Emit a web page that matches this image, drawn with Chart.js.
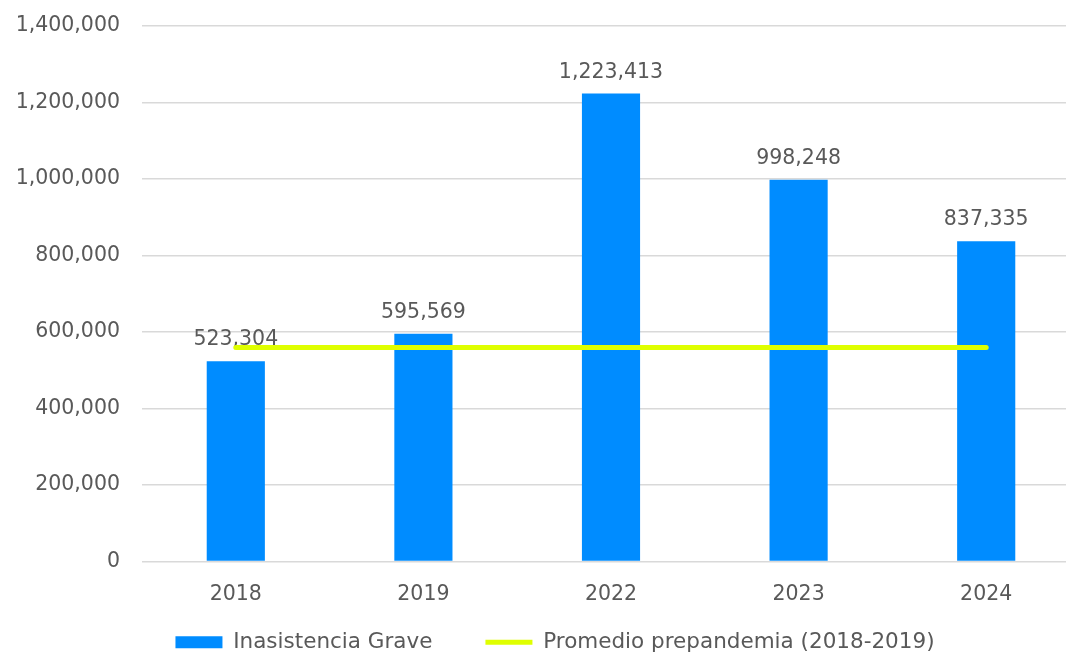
<!DOCTYPE html>
<html>
<head>
<meta charset="utf-8">
<script src="https://cdn.jsdelivr.net/npm/chart.js@4.4.1/dist/chart.umd.min.js"></script>
<style>
  html, body { margin: 0; padding: 0; background: #ffffff; }
  #wrap { width: 1066px; height: 652px; overflow: hidden; position: relative; }
  #box { width: 1080px; height: 690px; }
</style>
</head>
<body>
<div id="wrap"><div id="box"><canvas id="grafica"></canvas></div></div>
<script>
// Datos del gráfico
const anios = ['2018', '2019', '2022', '2023', '2024'];
const inasistenciaGrave = [523304, 595569, 1223413, 998248, 837335];
const promedioPrepandemia = [559437, 559437, 559437, 559437, 559437];
const ticksY = [0, 200000, 400000, 600000, 800000, 1000000, 1200000, 1400000];

const colorTexto = '#595959';
const familia = '"DejaVu Sans", Verdana, sans-serif';
const fuente = { family: familia, size: 20.5 };
const fmt = v => Number(v).toLocaleString('en-US');

// Etiquetas de datos sobre las barras
const etiquetasBarras = {
  id: 'etiquetasBarras',
  afterDatasetDraw(chart, args) {
    if (args.index !== 0) return;
    const ctx = chart.ctx;
    ctx.save();
    ctx.font = fuente.size + 'px ' + fuente.family;
    ctx.fillStyle = colorTexto;
    ctx.textAlign = 'center';
    ctx.textBaseline = 'alphabetic';
    args.meta.data.forEach((bar, i) => {
      ctx.fillText(fmt(inasistenciaGrave[i]), bar.x, bar.y - 16);
    });
    ctx.restore();
  }
};

// Ajuste de la posición de la leyenda
const moverLeyenda = {
  id: 'moverLeyenda',
  afterLayout(chart) {
    const lg = chart.legend;
    lg.left += 30;
    lg.top -= 27;
    lg.bottom -= 27;
  }
};

const ctx = document.getElementById('grafica').getContext('2d');
const myChart = new Chart(ctx, {
  type: 'bar',
  data: {
    labels: anios,
    datasets: [{
      label: 'Inasistencia Grave',
      data: inasistenciaGrave,
      backgroundColor: '#008CFF',
      borderWidth: 0,
      barPercentage: 0.31,
      categoryPercentage: 1,
      order: 1,
      pointStyle: 'rect'
    }, {
      type: 'line',
      label: 'Promedio prepandemia (2018-2019)',
      data: promedioPrepandemia,
      borderColor: '#DFFF00',
      backgroundColor: '#DFFF00',
      borderWidth: 5,
      borderCapStyle: 'round',
      pointRadius: 0,
      pointStyle: 'line',
      order: 0
    }]
  },
  options: {
    responsive: true,
    maintainAspectRatio: false,
    animation: false,
    layout: { padding: { top: 26, left: 0, right: 0, bottom: 0 } },
    plugins: {
      tooltip: { enabled: false },
      legend: {
        position: 'bottom',
        labels: {
          usePointStyle: true,
          pointStyleWidth: 47,
          boxHeight: 12,
          padding: 53,
          color: colorTexto,
          font: { family: familia, size: 21.5 },
          sort: (a, b) => a.datasetIndex - b.datasetIndex
        }
      }
    },
    scales: {
      x: {
        grid: { display: false, drawTicks: false },
        border: { display: false },
        ticks: { color: colorTexto, font: fuente, padding: 21 },
        afterFit: scale => { scale.height = 44; }
      },
      y: {
        min: 0,
        max: ticksY[ticksY.length - 1],
        grid: { color: '#d9d9d9', lineWidth: 1.5, drawTicks: true, tickLength: 19, tickColor: 'rgba(0,0,0,0)' },
        border: { display: false },
        afterBuildTicks: scale => { scale.ticks = ticksY.map(v => ({ value: v })); },
        afterFit: scale => { scale.width = 142; },
        ticks: {
          color: colorTexto,
          font: fuente,
          padding: 3,
          callback: v => fmt(v)
        }
      }
    }
  },
  plugins: [etiquetasBarras, moverLeyenda]
});
</script>
</body>
</html>
